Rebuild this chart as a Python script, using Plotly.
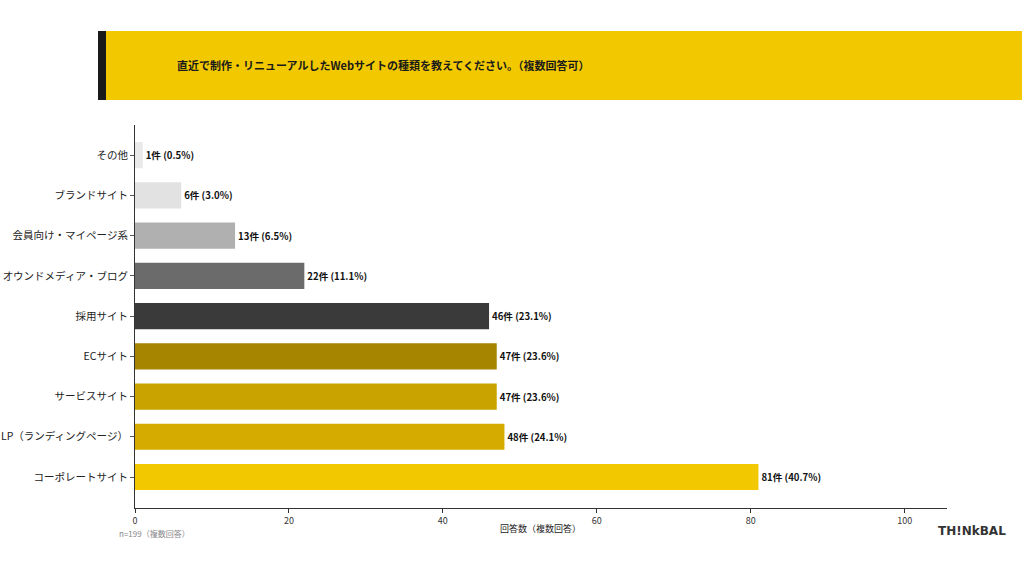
import plotly.graph_objects as go

categories = ["コーポレートサイト", "LP（ランディングページ）", "サービスサイト", "ECサイト", "採用サイト",
              "オウンドメディア・ブログ", "会員向け・マイページ系", "ブランドサイト", "その他"]
counts = [81, 48, 47, 47, 46, 22, 13, 6, 1]
percents = [40.7, 24.1, 23.6, 23.6, 23.1, 11.1, 6.5, 3.0, 0.5]
colors = ["#f2c900", "#d5ab00", "#c9a300", "#a68500", "#3a3a3a", "#6b6b6b", "#b0b0b0", "#e2e2e2", "#e9e9e9"]
x_ticks = [0, 20, 40, 60, 80, 100]
title = "直近で制作・リニューアルしたWebサイトの種類を教えてください。（複数回答可）"

FONT = "Noto Sans CJK JP"
labels = [f"<b>{c}件 ({p:.1f}%)</b>" for c, p in zip(counts, percents)]

fig = go.Figure()
fig.add_trace(go.Bar(
    x=counts, y=categories, orientation="h",
    marker=dict(color=colors, line=dict(width=0)),
    width=0.65,
    text=labels, textposition="outside", cliponaxis=False,
    textfont=dict(family=FONT, size=9.6, color="#111111"),
    hoverinfo="skip",
))

fig.update_layout(
    width=1024, height=576,
    margin=dict(l=135, r=77, t=125, b=68),
    paper_bgcolor="white", plot_bgcolor="white",
    font=dict(family=FONT, size=10, color="#222222"),
    showlegend=False,
    xaxis=dict(range=[0, 105.5], tickvals=x_ticks, showgrid=False, zeroline=False,
               showline=True, linecolor="#333333", linewidth=1, automargin=False,
               ticks="outside", ticklen=4, tickcolor="#333333",
               tickfont=dict(size=9, color="#333333")),
    yaxis=dict(range=[-0.77, 8.75], categoryorder="array", categoryarray=categories,
               showgrid=False, zeroline=False, showline=True, linecolor="#333333", linewidth=1,
               automargin=False,
               ticks="outside", ticklen=4, tickcolor="#555555",
               tickfont=dict(size=10.5, color="#222222")),
)
pw = 1024 - 135 - 77
ph = 576 - 125 - 68
def px(x):
    return (x - 135) / pw
def py(y):
    return (576 - 68 - y) / ph
fig.layout.shapes = [
    dict(type="rect", xref="paper", yref="paper", x0=px(98), x1=px(1022), y0=py(100), y1=py(31),
         fillcolor="#f2c800", line=dict(width=0)),
    dict(type="rect", xref="paper", yref="paper", x0=px(98), x1=px(106), y0=py(100), y1=py(31),
         fillcolor="#1a1a1a", line=dict(width=0)),
]
fig.add_annotation(xref="paper", yref="paper", x=px(175), y=py(65), xanchor="left", yanchor="middle",
                   text=f"<b>{title}</b>", showarrow=False,
                   font=dict(family=FONT, size=11, color="#1a1a1a"))
fig.add_annotation(xref="paper", yref="paper", x=px(540), y=py(528), xanchor="center", yanchor="middle",
                   text="回答数（複数回答）", showarrow=False,
                   font=dict(family=FONT, size=9, color="#222222"))
fig.add_annotation(xref="paper", yref="paper", x=px(117), y=py(533), xanchor="left", yanchor="middle",
                   text="n=199（複数回答）", showarrow=False,
                   font=dict(family=FONT, size=8, color="#888888"))
fig.add_annotation(xref="paper", yref="paper", x=px(1008), y=py(531), xanchor="right", yanchor="middle",
                   text="<b>TH!NkBAL</b>", showarrow=False,
                   font=dict(family="DejaVu Sans", size=12, color="#333333"))

fig.write_html("out.html")
